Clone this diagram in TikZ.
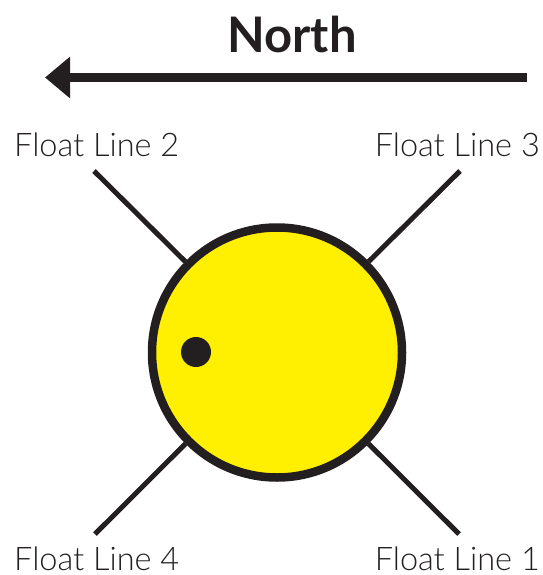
\documentclass[tikz,border=0pt]{standalone}
\usepackage{fontspec}
\setmainfont{Lato}
\newfontfamily\labelfont{Lato Light}
\usetikzlibrary{arrows.meta}
\definecolor{buoyyellow}{HTML}{FFEF00}
\definecolor{ink}{HTML}{231F20}
\tikzset{
  floatline/.style={line width=5pt,ink},
  floatlabel/.style={font=\labelfont\fontsize{32.5}{32.5}\selectfont,text=ink,inner sep=0pt}
}
\begin{document}
\begin{tikzpicture}[x=1pt,y=-1pt]
\useasboundingbox (0,0) rectangle (542,575);
% heading and arrow
\node[font=\bfseries\fontsize{49}{49}\selectfont,text=ink,inner sep=0pt,anchor=base] (north) at (292,53) {North};
\coordinate (arrowstart) at (527,77.5);
\coordinate (arrowtip) at (45,77.5);
\draw[-{Triangle[length=25pt,width=40pt]},line width=8.5pt,ink] (arrowstart) -- (arrowtip);
% buoy
\node[circle,draw=ink,fill=buoyyellow,line width=8.5pt,minimum size=250pt,inner sep=0pt] (buoy) at (277,352.5) {};
\node[circle,fill=ink,minimum size=30pt,inner sep=0pt] (dot) at (196,352) {};
% float lines
\coordinate (end2) at (94,171);
\coordinate (end3) at (460,171);
\coordinate (end4) at (95,534);
\coordinate (end1) at (459,534);
\draw[floatline] (end2) -- (buoy);
\draw[floatline] (end3) -- (buoy);
\draw[floatline] (end4) -- (buoy);
\draw[floatline] (end1) -- (buoy);
% labels
\node[floatlabel,anchor=base west] (label2) at (14,156) {Float Line 2};
\node[floatlabel,anchor=base east] (label3) at (540,156) {Float Line 3};
\node[floatlabel,anchor=base west] (label4) at (14,570) {Float Line 4};
\node[floatlabel,anchor=base east] (label1) at (540,570) {Float Line 1};
\end{tikzpicture}
\end{document}
